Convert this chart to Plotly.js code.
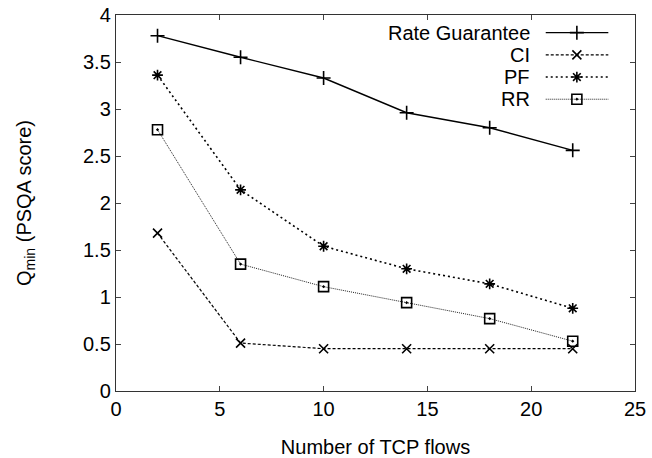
<!DOCTYPE html>
<html>
<head>
<meta charset="utf-8">
<script src="https://cdn.plot.ly/plotly-3.0.1.min.js"></script>
<style>html,body{margin:0;padding:0;background:#fff;}#chart{width:652px;height:458px;}</style>
</head>
<body>
<div id="chart"></div>
<script>
const flows = [2, 6, 10, 14, 18, 22];
const seriesNames = ["Rate Guarantee", "CI", "PF", "RR"];
const rateGuarantee = [3.78, 3.55, 3.33, 2.96, 2.80, 2.56];
const ci = [1.68, 0.51, 0.45, 0.45, 0.45, 0.45];
const pf = [3.36, 2.14, 1.54, 1.30, 1.14, 0.88];
const rr = [2.78, 1.35, 1.11, 0.94, 0.77, 0.53];
const xTicks = [0, 5, 10, 15, 20, 25];
const yTicks = [0, 0.5, 1, 1.5, 2, 2.5, 3, 3.5, 4];

const values = [rateGuarantee, ci, pf, rr];
const styles = [
  {dash: "solid", color: "#000", width: 1.4, symbol: "cross-thin-open", size: 10},
  {dash: "3px,2px", color: "#000", width: 1.2, symbol: "x-thin-open", size: 9},
  {dash: "2px,3px", color: "#000", width: 1.6, symbol: "asterisk-open", size: 9},
  {dash: "1px,1px", color: "#222", width: 1.0, symbol: "square-open-dot", size: 10}
];
const font = "Liberation Sans, Arial, sans-serif";
const fs = 20;

const traces = [];
values.forEach((v, i) => {
  const s = styles[i];
  traces.push({
    x: flows, y: v, name: seriesNames[i], type: "scatter", mode: "lines+markers",
    line: {color: s.color, width: s.width, dash: s.dash},
    marker: {symbol: s.symbol, size: s.size, color: "#000", line: {color: "#000", width: 1.6}},
    showlegend: false
  });
});

// legend samples drawn on an overlay axis pair spanning the plot area (0..1)
const legX = [0.828, 0.9486];
const legMarkX = 0.888;
const legY = [0.953, 0.894, 0.835, 0.776];
const annotations = [];
seriesNames.forEach((n, i) => {
  const s = styles[i];
  traces.push({
    x: legX, y: [legY[i], legY[i]], xaxis: "x2", yaxis: "y2", mode: "lines",
    line: {color: s.color, width: s.width, dash: s.dash}, showlegend: false, hoverinfo: "skip"
  });
  traces.push({
    x: [legMarkX], y: [legY[i]], xaxis: "x2", yaxis: "y2", mode: "markers",
    marker: {symbol: s.symbol, size: s.size, color: "#000", line: {color: "#000", width: 1.6}},
    showlegend: false, hoverinfo: "skip"
  });
  annotations.push({
    xref: "paper", yref: "paper", x: 0.801, y: legY[i], xanchor: "right", yanchor: "middle",
    text: n, showarrow: false, font: {family: font, size: fs, color: "#000"}
  });
});

const axisCommon = {
  showline: true, linecolor: "#333", linewidth: 1.2, mirror: "ticks",
  ticks: "inside", ticklen: 5, tickcolor: "#444", tickwidth: 1,
  showgrid: false, zeroline: false,
  tickfont: {family: font, size: fs, color: "#000"}
};

const layout = {
  width: 652, height: 458,
  margin: {l: 116, r: 17, t: 15, b: 67},
  paper_bgcolor: "#fff", plot_bgcolor: "#fff",
  showlegend: false,
  xaxis: Object.assign({}, axisCommon, {
    range: [0, 25], tickvals: xTicks, ticktext: xTicks.map(String),
    title: {text: "Number of TCP flows", font: {family: font, size: fs, color: "#000"}, standoff: 22}
  }),
  yaxis: Object.assign({}, axisCommon, {
    range: [0, 4], tickvals: yTicks, ticktext: yTicks.map(String),
    title: {text: "Q<sub>min</sub> (PSQA score)", font: {family: font, size: fs, color: "#000"}, standoff: 46}
  }),
  xaxis2: {overlaying: "x", range: [0, 1], visible: false, fixedrange: true},
  yaxis2: {overlaying: "y", range: [0, 1], visible: false, fixedrange: true},
  annotations: annotations
};

Plotly.newPlot("chart", traces, layout, {displayModeBar: false, staticPlot: true});
</script>
</body>
</html>
